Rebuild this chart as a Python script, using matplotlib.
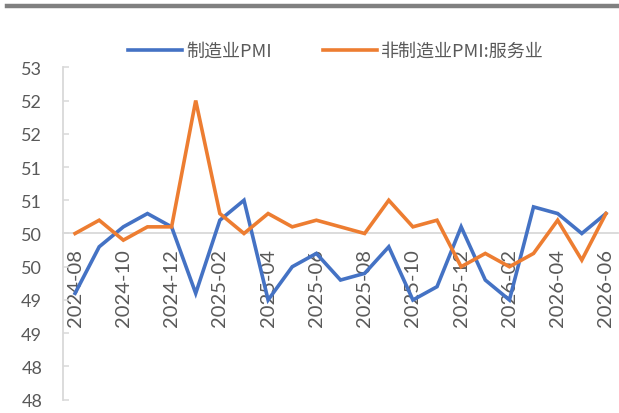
import matplotlib
matplotlib.use("Agg")
import matplotlib.pyplot as plt
import numpy as np
from matplotlib.lines import Line2D

months = ["2024-08", "2024-09", "2024-10", "2024-11", "2024-12",
          "2025-01", "2025-02", "2025-03", "2025-04", "2025-05", "2025-06",
          "2025-07", "2025-08", "2025-09", "2025-10", "2025-11", "2025-12",
          "2026-01", "2026-02", "2026-03", "2026-04", "2026-05", "2026-06"]
manufacturing = [49.1, 49.8, 50.1, 50.3, 50.1, 49.1, 50.2, 50.5, 49.0, 49.5, 49.7,
                 49.3, 49.4, 49.8, 49.0, 49.2, 50.1, 49.3, 49.0, 50.4, 50.3, 50.0, 50.3]
services = [50.0, 50.2, 49.9, 50.1, 50.1, 52.0, 50.3, 50.0, 50.3, 50.1, 50.2,
            50.1, 50.0, 50.5, 50.1, 50.2, 49.5, 49.7, 49.5, 49.7, 50.2, 49.6, 50.3]
ytick_vals = [47.5, 48.0, 48.5, 49.0, 49.5, 50.0, 50.5, 51.0, 51.5, 52.0, 52.5]
ytick_labels = ["48", "48", "49", "49", "50", "50", "51", "51", "52", "52", "53"]
series_names = ["制造业PMI", "非制造业PMI:服务业"]

plt.rcParams['font.family'] = ['Lato', 'Noto Sans CJK SC', 'DejaVu Sans']
TXT = "#595959"
GRID = "#d9d9d9"
BLUE = "#4472C4"
ORANGE = "#ED7D31"

W, H = 619, 414
fig = plt.figure(figsize=(W / 100, H / 100), dpi=100)
ax = fig.add_axes([63 / W, (H - 400.7) / H, (618 - 63) / W, (400.7 - 68.3) / H])

x = np.arange(len(months))
ax.plot(x, manufacturing, color=BLUE, lw=2.6, solid_joinstyle='miter', zorder=3)
ax.plot(x, services, color=ORANGE, lw=2.6, solid_joinstyle='miter', zorder=3)

ax.set_xlim(-0.5, len(months) - 0.5)
ax.set_ylim(47.5, 52.5)
ax.set_yticks(ytick_vals)
ax.set_yticklabels(ytick_labels)

for s in ['top', 'right']:
    ax.spines[s].set_visible(False)
ax.spines['left'].set_color(GRID)
ax.spines['left'].set_linewidth(1.3)
ax.spines['bottom'].set_position(('data', 50))
ax.spines['bottom'].set_color(GRID)
ax.spines['bottom'].set_linewidth(1.3)
ax.spines['bottom'].set_zorder(1)

ax.tick_params(axis='y', direction='in', length=4.5, width=1.1, color=GRID,
               labelsize=13, labelcolor=TXT, pad=15)
ax.set_xticks(x[::2])
ax.set_xticklabels(months[::2], rotation=90)
ax.tick_params(axis='x', length=0, labelsize=14.5, labelcolor=TXT, pad=10.5)

handles = [Line2D([], [], color=BLUE, lw=2.6), Line2D([], [], color=ORANGE, lw=2.6)]
fig.legend(handles, series_names, loc='center', bbox_to_anchor=(336 / W, 1 - 52 / H),
           ncol=2, frameon=False, fontsize=13, labelcolor=TXT,
           handlelength=3.0, handletextpad=0.25, columnspacing=2.8,
           prop={'family': ['Noto Sans CJK SC', 'DejaVu Sans'], 'size': 13})

# top gray rule
fig.add_artist(Line2D([7 / W, 1.0], [1 - 6.5 / H, 1 - 6.5 / H], color="#808080",
                      lw=3.2, transform=fig.transFigure))

fig.savefig("out.png", dpi=100)
